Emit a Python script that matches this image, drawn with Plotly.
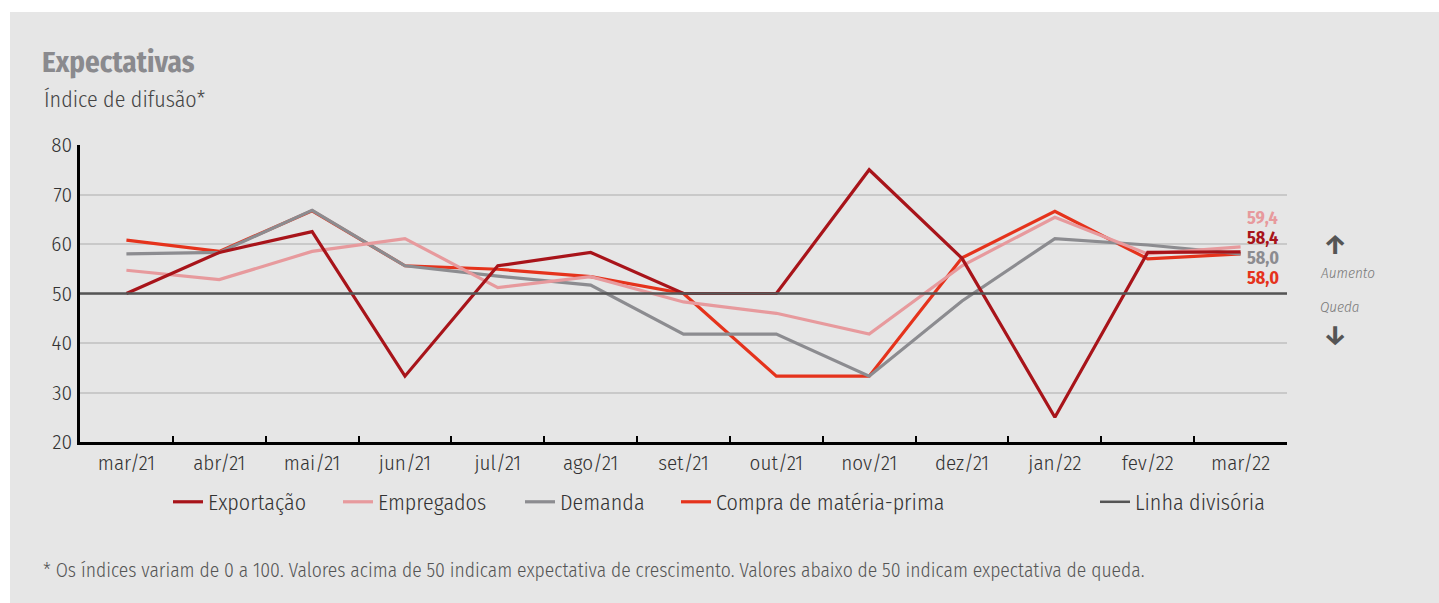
import plotly.graph_objects as go

months = ["mar/21", "abr/21", "mai/21", "jun/21", "jul/21", "ago/21", "set/21",
          "out/21", "nov/21", "dez/21", "jan/22", "fev/22", "mar/22"]
exportacao = [50.0, 58.3, 62.5, 33.3, 55.6, 58.3, 50.0, 50.0, 75.0, 57.1, 25.0, 58.3, 58.4]
empregados = [54.7, 52.8, 58.5, 61.1, 51.2, 53.4, 48.3, 46.0, 41.8, 55.6, 65.4, 58.0, 59.4]
demanda = [58.0, 58.3, 66.8, 55.6, 53.5, 51.7, 41.8, 41.8, 33.3, 48.5, 61.1, 59.8, 58.0]
compra = [60.8, 58.5, 66.7, 55.6, 54.9, 53.4, 50.0, 33.3, 33.3, 57.2, 66.6, 57.0, 58.0]
divisoria = [50.0] * len(months)

C_EXP = "#a8141a"
C_EMP = "#e79a9d"
C_DEM = "#8c8c90"
C_COM = "#e5331c"
C_DIV = "#555555"

FONT = "Fira Sans Condensed, Roboto, sans-serif"
W, H = 1439, 603
L, R, T, B = 80, 152, 145, 161
PW = W - L - R


def px2x(px):
    return (px - L) / PW


fig = go.Figure()

fig.add_trace(go.Scatter(
    x=[-0.5, len(months) - 0.5], y=[divisoria[0], divisoria[-1]], xaxis="x2",
    mode="lines", line=dict(color=C_DIV, width=2.5), name="Linha divisória",
    legend="legend5", hoverinfo="skip"))

series = [
    ("Compra de matéria-prima", compra, C_COM, "legend4"),
    ("Demanda", demanda, C_DEM, "legend3"),
    ("Empregados", empregados, C_EMP, "legend2"),
    ("Exportação", exportacao, C_EXP, "legend"),
]
for name, vals, col, lg in series:
    fig.add_trace(go.Scatter(x=months, y=vals, mode="lines", name=name,
                             line=dict(color=col, width=3.2), legend=lg))

end_items = [(empregados[-1], C_EMP, 0.754), (exportacao[-1], C_EXP, 0.687),
             (demanda[-1], C_DEM, 0.620), (compra[-1], C_COM, 0.552)]
for v, col, yp in end_items:
    fig.add_annotation(x=months[-1], xref="x", y=yp, yref="paper",
                       text=f"<b>{v:.1f}</b>".replace(".", ","), showarrow=False,
                       xanchor="left", yanchor="middle", xshift=4,
                       font=dict(family=FONT, size=18, color=col))

side = [("<b>↑</b>", 1.040, 0.663, "center", 27),
        ("Aumento", 1.0257, 0.569, "left", 15),
        ("Queda", 1.0257, 0.455, "left", 15),
        ("<b>↓</b>", 1.040, 0.360, "center", 27)]
for t, xp, yp, xa, sz in side:
    arrow = "↑" in t or "↓" in t
    fig.add_annotation(x=xp, y=yp, xref="paper", yref="paper", text=t,
                       showarrow=False, xanchor=xa, yanchor="middle",
                       font=dict(family=FONT, size=sz,
                                 style="normal" if arrow else "italic",
                                 weight=700 if arrow else 300,
                                 color="#555555" if arrow else "#7a7a7a"))

fig.add_annotation(x=px2x(42), y=1.152, xref="paper", yref="paper",
                   text="Índice de difusão*", showarrow=False, xanchor="left",
                   yanchor="middle",
                   font=dict(family=FONT, size=22, weight=300, color="#444444"))
fig.add_annotation(x=px2x(41), y=-0.434, xref="paper", yref="paper",
                   text="* Os índices variam de 0 a 100. Valores acima de 50 indicam expectativa de crescimento. Valores abaixo de 50 indicam expectativa de queda.",
                   showarrow=False, xanchor="left", yanchor="middle",
                   font=dict(family=FONT, size=19.5, weight=300, color="#555555"))

fig.add_shape(type="rect", xref="paper", yref="paper", x0=px2x(10), x1=1.3,
              y0=-0.7, y1=(442 - 12) / 297, fillcolor="#e6e6e6",
              line=dict(width=0), layer="below")

leg_common = dict(orientation="h", y=-0.202, xanchor="left", yanchor="middle",
                  bgcolor="rgba(0,0,0,0)",
                  font=dict(family=FONT, size=22, weight=300, color="#333333"))
# legend text starts (px): 208, 378, 560, 716, 1135
leg_x = {"legend": 208, "legend2": 378, "legend3": 560, "legend4": 716, "legend5": 1135}
legends = {k: dict(x=px2x(v - 40), **leg_common) for k, v in leg_x.items()}

fig.update_layout(
    width=W, height=H,
    margin=dict(l=L, r=R, t=T, b=B),
    paper_bgcolor="white", plot_bgcolor="rgba(0,0,0,0)",
    font=dict(family=FONT, color="#333333"),
    title=dict(text="<b>Expectativas</b>", x=42 / W, xanchor="left",
               xref="container", y=1 - 62 / H, yref="container",
               yanchor="middle",
               font=dict(family=FONT, size=29, color="#8a8a8e")),
    xaxis=dict(type="category", range=[-0.5, len(months) - 0.5],
               tickson="boundaries", ticks="inside", ticklen=6, tickwidth=2,
               tickcolor="black", showline=True, linecolor="black", linewidth=2.5,
               showgrid=False, tickfont=dict(size=21, weight=300, color="#333333"),
               fixedrange=True),
    xaxis2=dict(overlaying="x", range=[-0.5, len(months) - 0.5], visible=False),
    yaxis=dict(range=[20, 80], dtick=10, showgrid=True, gridcolor="#c9c9c9",
               gridwidth=1.5, zeroline=False, showline=True, linecolor="black",
               linewidth=2.5, ticks="", tickfont=dict(size=21, weight=300, color="#333333"),
               ticklabelstandoff=1),
    showlegend=True,
    **legends,
)

fig.write_html("out.html", config={"displayModeBar": False},
               post_script="document.body.style.margin='0';document.body.style.overflow='hidden';")
